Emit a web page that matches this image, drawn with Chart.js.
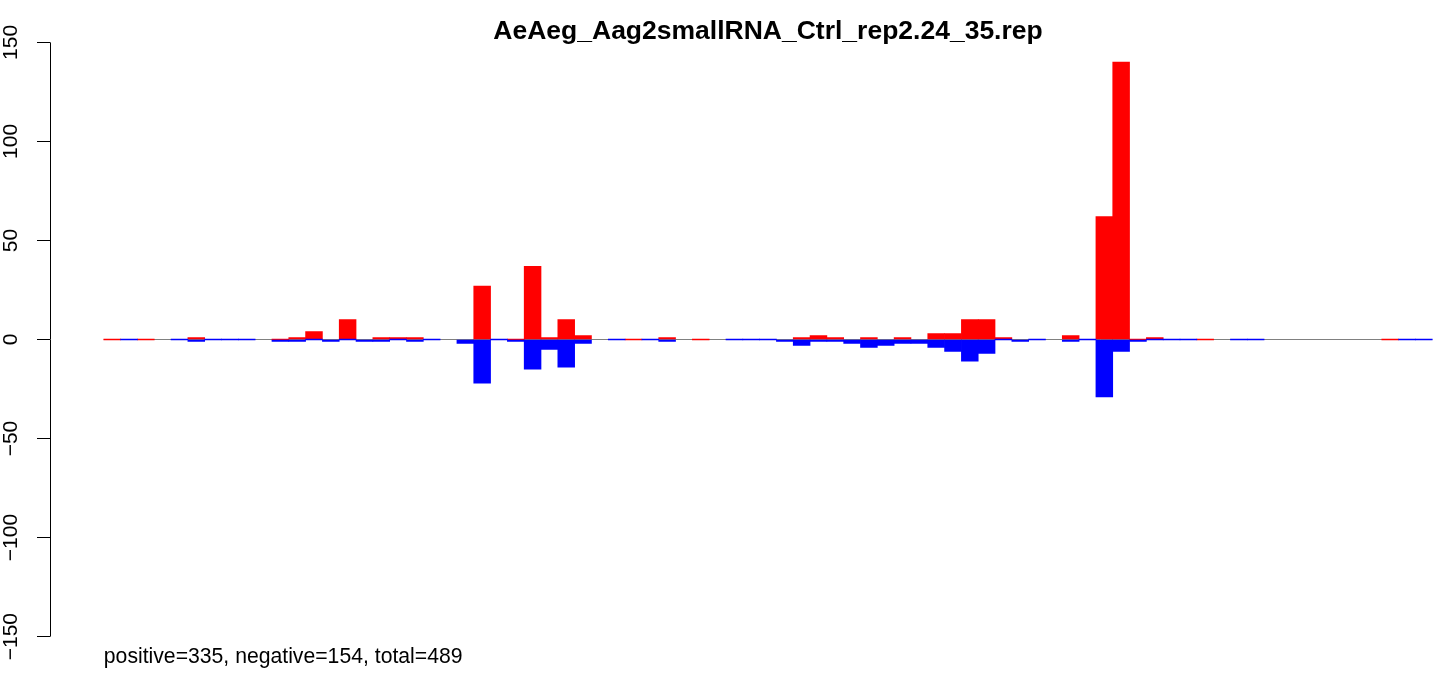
<!DOCTYPE html>
<html>
<head>
<meta charset="utf-8">
<script src="https://cdn.jsdelivr.net/npm/chart.js@4/dist/chart.umd.min.js"></script>
<style>
html,body{margin:0;padding:0;background:#ffffff;}
#wrap{position:relative;width:1444px;height:676px;}
</style>
</head>
<body>
<div id="wrap"><canvas id="c" width="1444" height="676"></canvas></div>
<script>
// ---- data ----
const chartTitle = "AeAeg_Aag2smallRNA_Ctrl_rep2.24_35.rep";
const footerText = "positive=335, negative=154, total=489";
const bins = [0,1,2,3,4,5,6,7,8,9,10,11,12,13,14,15,16,17,18,19,20,21,22,23,24,25,26,27,28,29,30,31,32,33,34,35,36,37,38,39,40,41,42,43,44,45,46,47,48,49,50,51,52,53,54,55,56,57,58,59,60,61,62,63,64,65,66,67,68,69,70,71,72,73,74,75,76,77,78];
const positive = [0,null,0,null,null,1,null,null,null,null,0,1,4,null,10,null,1,1,1,null,null,null,27,null,0,37,1,10,2,null,null,0,null,1,null,0,null,null,null,null,null,1,2,1,null,1,null,1,null,3,3,10,10,1,null,null,null,2,null,62,140,0,1,null,null,0,null,null,null,null,null,null,null,null,null,null,0,null,null];
const negative = [null,0,null,null,0,-1,0,0,0,null,-1,-1,0,-1,0,-1,-1,0,-1,0,null,-2,-22,0,-1,-15,-5,-14,-2,null,0,null,0,-1,null,null,null,0,0,0,-1,-3,-1,-1,-2,-4,-3,-2,-2,-4,-6,-11,-7,0,-1,0,null,-1,0,-29,-6,-1,0,0,0,null,null,0,0,null,null,null,null,null,null,null,null,0,0];
const yTicks = [-150,-100,-50,0,50,100,150];

// ---- build ----
const binWidth = 1;
const firstEdge = bins[0];
const lastEdge = bins[bins.length-1] + binWidth;
const toPoints = arr => bins.map((b,i) => ({x: b + binWidth/2, y: arr[i]}));

const FONT = "'Liberation Sans', Arial, Helvetica, sans-serif";

const extras = {
  id: 'extras',
  afterDraw(chart) {
    const {ctx, scales:{x, y}} = chart;
    ctx.save();
    // y axis line over tick range
    const ax = Math.round(chart.chartArea.left - 0.5) + 0.5;
    ctx.strokeStyle = '#000';
    ctx.lineWidth = 1;
    ctx.beginPath();
    ctx.moveTo(ax, y.getPixelForValue(yTicks[yTicks.length-1]));
    ctx.lineTo(ax, y.getPixelForValue(yTicks[0]));
    ctx.stroke();
    // title
    ctx.fillStyle = '#000';
    ctx.font = "bold 26.5px " + FONT;
    ctx.textAlign = 'center';
    ctx.textBaseline = 'alphabetic';
    ctx.fillText(chartTitle, x.getPixelForValue((firstEdge + lastEdge)/2), 39);
    // footer
    ctx.font = "21.2px " + FONT;
    ctx.textAlign = 'left';
    ctx.fillText(footerText, x.getPixelForValue(firstEdge), 663);
    ctx.restore();
  }
};

new Chart(document.getElementById('c'), {
  type: 'bar',
  data: {
    datasets: [
      { label: 'negative', data: toPoints(negative), backgroundColor: '#0000ff', borderWidth: 0,
        grouped: false, barPercentage: 1.0, categoryPercentage: 1.0, minBarLength: 1, order: 0 },
      { label: 'positive', data: toPoints(positive), backgroundColor: '#ff0000', borderWidth: 0,
        grouped: false, barPercentage: 1.0, categoryPercentage: 1.0, minBarLength: 1, order: 1 },
      { type: 'line', label: 'zero', data: [{x: firstEdge, y: 0}, {x: lastEdge, y: 0}],
        borderColor: '#808080', borderWidth: 1, pointRadius: 0, order: 2 }
    ]
  },
  options: {
    responsive: false,
    devicePixelRatio: 1,
    animation: false,
    layout: { padding: { top: 30.5, bottom: 27.5, left: 0, right: 0 } },
    plugins: { legend: { display: false }, tooltip: { enabled: false }, title: { display: false } },
    scales: {
      x: {
        type: 'linear', min: -3.2, max: 79.7, offset: false, display: false,
        ticks: { stepSize: 10 }, grid: { offset: false }
      },
      y: {
        position: 'left', min: -156, max: 156,
        afterBuildTicks: s => { s.ticks = yTicks.map(v => ({value: v})); },
        afterFit: s => { s.width = 50; },
        border: { display: false },
        grid: { drawOnChartArea: false, drawTicks: true, tickLength: 13, color: '#000', lineWidth: 1 },
        ticks: {
          color: '#000', font: { family: FONT, size: 21 },
          minRotation: 90, maxRotation: 90, crossAlign: 'center', padding: 2,
          callback: v => (v < 0 ? '\u2212' + Math.abs(v) : String(v))
        }
      }
    }
  },
  plugins: [extras]
});
</script>
</body>
</html>
